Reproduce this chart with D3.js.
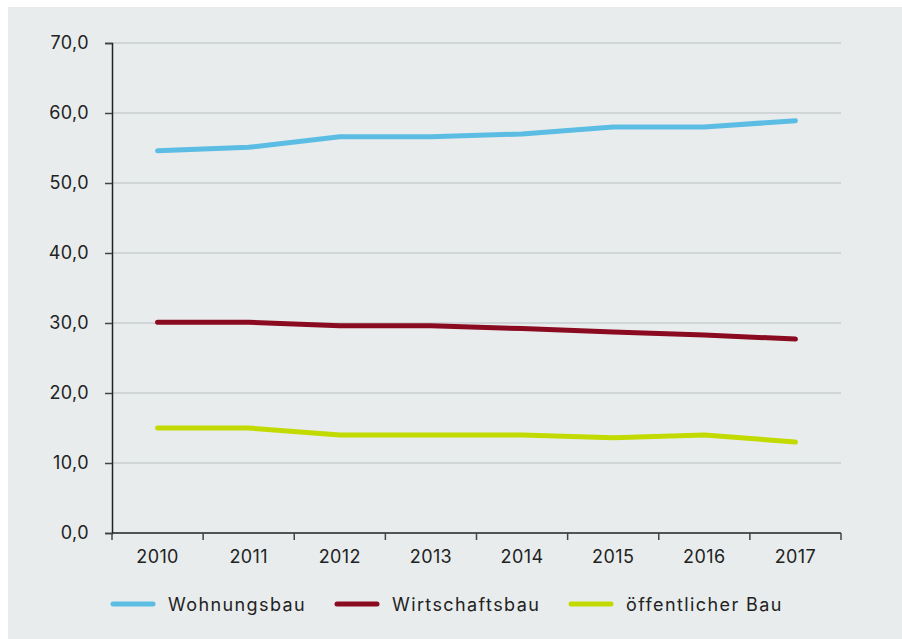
<!DOCTYPE html>
<html>
<head>
<meta charset="utf-8">
<script src="https://cdn.jsdelivr.net/npm/d3@7"></script>
<style>
  body { margin: 0; background: #fff; }
  svg { display: block; font-family: Inter, "Open Sans", sans-serif; }
  .ticklabel { fill: #222; font-size: 18px; letter-spacing: 0.4px; }
  .legend text { fill: #222; font-size: 18px; letter-spacing: 1.4px; }
</style>
</head>
<body>
<div id="chart"></div>
<script>
// Data
var years = ['2010', '2011', '2012', '2013', '2014', '2015', '2016', '2017'];
var wohnungsbau = [54.6, 55.1, 56.6, 56.6, 57.0, 58.0, 58.0, 58.9];
var wirtschaftsbau = [30.1, 30.1, 29.6, 29.6, 29.2, 28.7, 28.3, 27.7];
var oeffentlicherBau = [15.0, 15.0, 14.0, 14.0, 14.0, 13.6, 14.0, 13.0];
var yTicks = [0, 10, 20, 30, 40, 50, 60, 70];

var series = [
  { name: 'Wohnungsbau', values: wohnungsbau, color: '#5bbde3' },
  { name: 'Wirtschaftsbau', values: wirtschaftsbau, color: '#8a0a20' },
  { name: 'öffentlicher Bau', values: oeffentlicherBau, color: '#c3da00' }
];

var width = 902, height = 639;
var plotLeft = 112, plotRight = 841, plotTop = 43, plotBottom = 533;

var svg = d3.select('#chart').append('svg')
  .attr('width', width)
  .attr('height', height);

// panel background
svg.append('rect')
  .attr('x', 8).attr('y', 7)
  .attr('width', width - 8).attr('height', height - 7)
  .attr('fill', '#e8eced');

var x = d3.scaleBand().domain(years).range([plotLeft, plotRight]);
var y = d3.scaleLinear().domain([0, 70]).range([plotBottom, plotTop]);

// gridlines
svg.append('g')
  .selectAll('line')
  .data(yTicks.filter(d => d > 0))
  .join('line')
    .attr('x1', plotLeft).attr('x2', plotRight)
    .attr('y1', d => y(d)).attr('y2', d => y(d))
    .attr('stroke', '#c9cfcf')
    .attr('stroke-width', 1.5);

// y axis
var yAxis = svg.append('g')
  .attr('transform', 'translate(' + plotLeft + ',0)')
  .call(d3.axisLeft(y).tickValues(yTicks).tickSize(7).tickPadding(16)
    .tickFormat(d => d3.format('.1f')(d).replace('.', ',')))
  .attr('font-family', null)
  .attr('font-size', null);
yAxis.select('.domain').attr('stroke', '#222').attr('stroke-width', 1.5);
yAxis.selectAll('.tick line').attr('stroke', '#444').attr('stroke-width', 1.5);
yAxis.selectAll('.tick text').attr('class', 'ticklabel').attr('fill', null);

// x axis, ticks at band edges
var xAxis = svg.append('g')
  .attr('transform', 'translate(0,' + plotBottom + ')');
xAxis.append('line')
  .attr('x1', plotLeft).attr('x2', plotRight)
  .attr('stroke', '#222').attr('stroke-width', 1.5);
xAxis.selectAll('line.edge')
  .data(years.map(d => x(d)).concat([plotRight]))
  .join('line')
    .attr('class', 'edge')
    .attr('x1', d => d).attr('x2', d => d)
    .attr('y1', 0).attr('y2', 7)
    .attr('stroke', '#444').attr('stroke-width', 1.5);
xAxis.selectAll('text')
  .data(years)
  .join('text')
    .attr('class', 'ticklabel')
    .attr('x', d => x(d) + x.bandwidth() / 2)
    .attr('y', 30)
    .attr('text-anchor', 'middle')
    .text(d => d);

// lines
var line = d3.line()
  .x((d, i) => x(years[i]) + x.bandwidth() / 2)
  .y(d => y(d));

svg.append('g')
  .selectAll('path')
  .data(series)
  .join('path')
    .attr('d', d => line(d.values))
    .attr('fill', 'none')
    .attr('stroke', d => d.color)
    .attr('stroke-width', 5)
    .attr('stroke-linecap', 'round')
    .attr('stroke-linejoin', 'round');

// legend
var legendX = [113, 337, 571];
var legend = svg.append('g').attr('class', 'legend')
  .selectAll('g')
  .data(series)
  .join('g')
    .attr('transform', (d, i) => 'translate(' + legendX[i] + ',604)');
legend.append('line')
  .attr('x1', 0).attr('x2', 40)
  .attr('stroke', d => d.color)
  .attr('stroke-width', 5)
  .attr('stroke-linecap', 'round');
legend.append('text')
  .attr('x', 55)
  .attr('y', 6.5)
  .text(d => d.name);
</script>
</body>
</html>
